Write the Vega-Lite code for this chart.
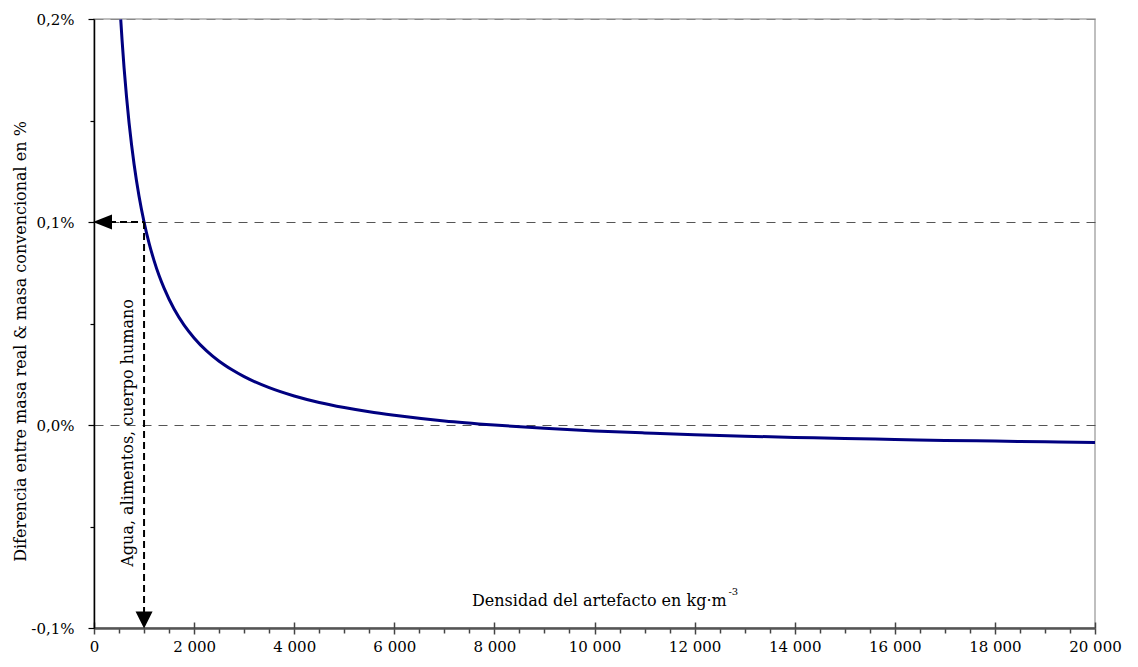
{
  "$schema": "https://vega.github.io/schema/vega-lite/v6.json",
  "width": 1001,
  "height": 609,
  "autosize": {"type": "none"},
  "padding": {"left": 94, "top": 19, "right": 43, "bottom": 39},
  "background": "white",
  "config": {
    "view": {"stroke": "#aaaaaa", "strokeWidth": 1.5},
    "font": "DejaVu Serif",
    "text": {"font": "DejaVu Serif"}
  },
  "datasets": {
    "curve": [
      {"x": 534, "y": 0.1998}, {"x": 560, "y": 0.1898}, {"x": 600, "y": 0.1762},
      {"x": 650, "y": 0.1616}, {"x": 700, "y": 0.1490}, {"x": 750, "y": 0.1381},
      {"x": 800, "y": 0.1286}, {"x": 900, "y": 0.1127}, {"x": 1000, "y": 0.1000},
      {"x": 1100, "y": 0.0896}, {"x": 1200, "y": 0.0810}, {"x": 1300, "y": 0.0736},
      {"x": 1400, "y": 0.0674}, {"x": 1600, "y": 0.0571}, {"x": 1800, "y": 0.0492},
      {"x": 2000, "y": 0.0429}, {"x": 2250, "y": 0.0365}, {"x": 2500, "y": 0.0314},
      {"x": 2750, "y": 0.0273}, {"x": 3000, "y": 0.0238}, {"x": 3500, "y": 0.0184},
      {"x": 4000, "y": 0.0143}, {"x": 4500, "y": 0.0111}, {"x": 5000, "y": 0.0086},
      {"x": 5500, "y": 0.0065}, {"x": 6000, "y": 0.0048}, {"x": 7000, "y": 0.0020},
      {"x": 8000, "y": 0.0000}, {"x": 9000, "y": -0.0016}, {"x": 10000, "y": -0.0029},
      {"x": 11000, "y": -0.0039}, {"x": 12000, "y": -0.0048}, {"x": 13000, "y": -0.0055},
      {"x": 14000, "y": -0.0061}, {"x": 15000, "y": -0.0067}, {"x": 16000, "y": -0.0071},
      {"x": 17000, "y": -0.0076}, {"x": 18000, "y": -0.0079}, {"x": 19000, "y": -0.0083},
      {"x": 20000, "y": -0.0086}
    ],
    "arrows": [
      {"x": 300, "x2": 1000, "y": 0.1, "y2": 0.1},
      {"x": 1000, "x2": 1000, "y": 0.1, "y2": -0.096}
    ],
    "headLeft": [{"x": 170, "y": 0.1}],
    "headDown": [{"x": 1000, "y": -0.0961}],
    "labelMain": [{"x": 12641, "y": -0.0892, "t": "Densidad del artefacto en kg·m"}],
    "labelSup": [{"x": 12677, "y": -0.0837, "t": "-3"}],
    "labelRot": [{"x": 680, "y": -0.0039, "t": "Agua, alimentos, cuerpo humano"}]
  },
  "layer": [
    {
      "data": {"name": "curve"},
      "mark": {"type": "line", "color": "#000080", "strokeWidth": 3, "interpolate": "monotone", "clip": true},
      "encoding": {
        "x": {
          "field": "x", "type": "quantitative",
          "scale": {"domain": [0, 20000], "nice": false, "zero": false},
          "axis": {
            "title": null,
            "grid": false,
            "values": [0, 500, 1000, 1500, 2000, 2500, 3000, 3500, 4000, 4500, 5000, 5500, 6000, 6500, 7000, 7500, 8000, 8500, 9000, 9500, 10000, 10500, 11000, 11500, 12000, 12500, 13000, 13500, 14000, 14500, 15000, 15500, 16000, 16500, 17000, 17500, 18000, 18500, 19000, 19500, 20000],
            "labelExpr": "datum.value % 2000 == 0 ? replace(format(datum.value, ','), ',', ' ') : ''",
            "tickSize": {"condition": {"test": "datum.value % 2000 == 0", "value": 6}, "value": 5},
            "tickColor": "#444444",
            "tickWidth": 1.5,
            "domainColor": "#555555",
            "domainWidth": 2.5,
            "labelFont": "DejaVu Serif",
            "labelFontSize": 15,
            "labelColor": "#000000",
            "labelPadding": 5,
            "labelFlush": false,
            "labelOverlap": false
          }
        },
        "y": {
          "field": "y", "type": "quantitative",
          "scale": {"domain": [-0.1, 0.2], "nice": false, "zero": false},
          "axis": {
            "title": "Diferencia entre masa real & masa convencional en %",
            "titleFont": "DejaVu Serif",
            "titleFontSize": 16,
            "titleFontWeight": "normal",
            "titleColor": "#000000",
            "titleX": -74,
            "titleY": 322,
            "titleAngle": 270,
            "titleAlign": "center",
            "titleBaseline": "middle",
            "values": [-0.1, -0.05, 0, 0.05, 0.1, 0.15, 0.2],
            "labelExpr": "abs(datum.value * 10 - round(datum.value * 10)) < 0.01 ? (datum.value < 0 ? '-' : '') + replace(format(abs(datum.value), '.1f'), '.', ',') + '%' : ''",
            "tickSize": {"condition": {"test": "abs(datum.value * 10 - round(datum.value * 10)) < 0.01", "value": 6}, "value": 4},
            "tickColor": "#000000",
            "tickWidth": 1.2,
            "domainColor": "#000000",
            "domainWidth": 1.5,
            "grid": true,
            "gridDash": [9, 7],
            "gridColor": {"condition": {"test": "datum.value > 0.15", "value": "#888888"}, "value": "#555555"},
            "gridWidth": 1,
            "gridOpacity": {"condition": {"test": "abs(datum.value * 10 - round(datum.value * 10)) < 0.01 && datum.value > -0.05", "value": 1}, "value": 0},
            "labelFont": "DejaVu Serif",
            "labelFontSize": 15,
            "labelColor": "#000000",
            "labelPadding": 14,
            "labelFlush": false,
            "labelOverlap": false
          }
        }
      }
    },
    {
      "data": {"name": "arrows"},
      "mark": {"type": "rule", "color": "#000000", "strokeWidth": 2, "strokeDash": [7, 4]},
      "encoding": {
        "x": {
          "field": "x", "type": "quantitative",
          "scale": {"domain": [0, 20000], "nice": false, "zero": false},
          "axis": {
            "orient": "bottom",
            "values": [0, 2000, 4000, 6000, 8000, 10000, 12000, 14000, 16000, 18000, 20000],
            "tickSize": -6,
            "tickColor": "#444444",
            "tickWidth": 1.5,
            "labels": false,
            "domain": false,
            "grid": false,
            "title": null
          }
        },
        "x2": {"field": "x2"},
        "y": {"field": "y", "type": "quantitative", "scale": {"domain": [-0.1, 0.2], "nice": false, "zero": false}},
        "y2": {"field": "y2"}
      }
    },
    {
      "data": {"name": "headLeft"},
      "mark": {"type": "point", "shape": "M-1,0L1,-0.79L1,0.79Z", "size": 361, "filled": true, "color": "#000000", "opacity": 1},
      "encoding": {
        "x": {"field": "x", "type": "quantitative", "axis": null},
        "y": {"field": "y", "type": "quantitative"}
      }
    },
    {
      "data": {"name": "headDown"},
      "mark": {"type": "point", "shape": "M-1,-1L1,-1L0,1Z", "size": 289, "filled": true, "color": "#000000", "opacity": 1},
      "encoding": {
        "x": {"field": "x", "type": "quantitative", "axis": null},
        "y": {"field": "y", "type": "quantitative"}
      }
    },
    {
      "data": {"name": "labelMain"},
      "mark": {"type": "text", "align": "right", "baseline": "alphabetic", "fontSize": 16, "color": "#000000"},
      "encoding": {
        "x": {"field": "x", "type": "quantitative", "axis": null},
        "y": {"field": "y", "type": "quantitative"},
        "text": {"field": "t"}
      }
    },
    {
      "data": {"name": "labelSup"},
      "mark": {"type": "text", "align": "left", "baseline": "alphabetic", "fontSize": 10, "color": "#000000"},
      "encoding": {
        "x": {"field": "x", "type": "quantitative", "axis": null},
        "y": {"field": "y", "type": "quantitative"},
        "text": {"field": "t"}
      }
    },
    {
      "data": {"name": "labelRot"},
      "mark": {"type": "text", "align": "center", "baseline": "middle", "angle": 270, "fontSize": 16, "color": "#000000"},
      "encoding": {
        "x": {"field": "x", "type": "quantitative", "axis": null},
        "y": {"field": "y", "type": "quantitative"},
        "text": {"field": "t"}
      }
    }
  ],
  "resolve": {"axis": {"x": "independent"}}
}
